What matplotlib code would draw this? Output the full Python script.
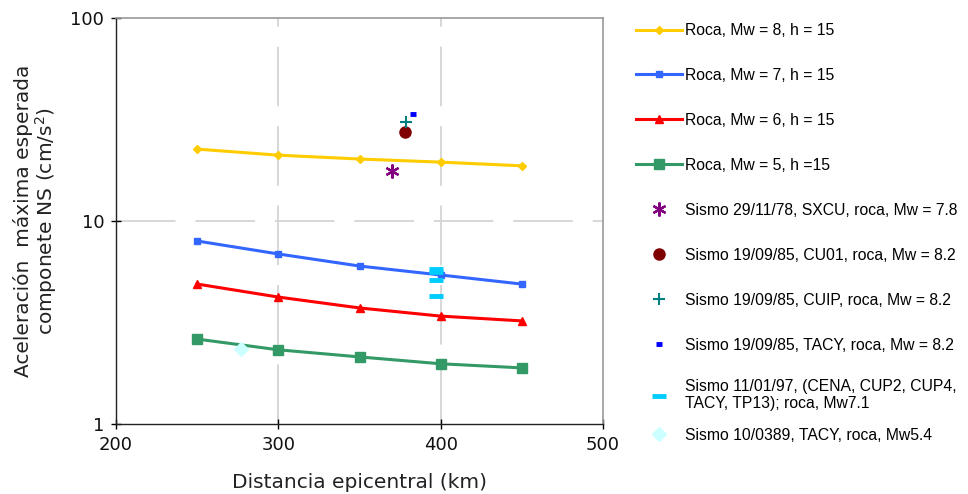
import matplotlib
matplotlib.use("Agg")
import matplotlib.pyplot as plt
from matplotlib.ticker import FixedLocator, FixedFormatter, NullLocator

# ---- data ----
distances = [250, 300, 350, 400, 450]
mw8 = [22.6, 21.1, 20.2, 19.5, 18.7]
mw7 = [7.97, 6.88, 6.0, 5.42, 4.89]
mw6 = [4.89, 4.22, 3.73, 3.40, 3.22]
mw5 = [2.62, 2.32, 2.14, 1.98, 1.89]

sxcu_x, sxcu_y = [370], [17.6]
cu01_x, cu01_y = [378], [27.4]
cuip_x, cuip_y = [378.5], [30.7]
tacy85_x, tacy85_y = [383], [33.7]
s97_x = [397, 397, 397, 397]
s97_y = [5.8, 5.6, 5.1, 4.25]
s89_x, s89_y = [277], [2.34]

labels_roca = ["Roca, Mw = 8, h = 15", "Roca, Mw = 7, h = 15",
               "Roca, Mw = 6, h = 15", "Roca, Mw = 5, h =15"]
labels_sismo = ["Sismo 29/11/78, SXCU, roca, Mw = 7.8",
                "Sismo 19/09/85, CU01, roca, Mw = 8.2",
                "Sismo 19/09/85, CUIP, roca, Mw = 8.2",
                "Sismo 19/09/85, TACY, roca, Mw = 8.2",
                "Sismo 11/01/97, (CENA, CUP2, CUP4,\nTACY, TP13); roca, Mw7.1",
                "Sismo 10/0389, TACY, roca, Mw5.4"]
xticks = [200, 300, 400, 500]
yticks = [1, 10, 100]
ytick_labels = ["1", "10", "100"]

fig = plt.figure(figsize=(9.68, 4.94), dpi=100)
ax = fig.add_axes([116/968, 70/494, 487/968, 406/494])

lw = 2.2
h = []
h += ax.plot(distances, mw8, color="#FFCC00", lw=lw, marker="D", ms=4.5, label=labels_roca[0])
h += ax.plot(distances, mw7, color="#3366FF", lw=lw, marker="s", ms=4.5, label=labels_roca[1])
h += ax.plot(distances, mw6, color="#FF0000", lw=lw, marker="^", ms=6, label=labels_roca[2])
h += ax.plot(distances, mw5, color="#339966", lw=lw, marker="s", ms=6.5, label=labels_roca[3])

h += ax.plot(sxcu_x, sxcu_y, ls="none", marker=(6, 2, 0), ms=10, mew=1.6, color="#800080", label=labels_sismo[0])
h += ax.plot(cu01_x, cu01_y, ls="none", marker="o", ms=8, color="#800000", label=labels_sismo[1])
h += ax.plot(cuip_x, cuip_y, ls="none", marker="+", ms=9, mew=1.5, color="#008080", label=labels_sismo[2])
h += ax.plot(tacy85_x, tacy85_y, ls="none", marker="_", ms=5, mew=3.5, color="#0000FF", label=labels_sismo[3])
h += ax.plot(s97_x, s97_y, ls="none", marker="_", ms=9.5, mew=3.5, color="#00CCFF", label=labels_sismo[4])
h += ax.plot(s89_x, s89_y, ls="none", marker="D", ms=7, color="#CCFFFF", label=labels_sismo[5])

ax.set_yscale("log")
ax.set_xlim(200, 500)
ax.set_ylim(1, 100)
ax.xaxis.set_major_locator(FixedLocator(xticks))
ax.yaxis.set_major_locator(FixedLocator(yticks))
ax.yaxis.set_major_formatter(FixedFormatter(ytick_labels))
ax.yaxis.set_minor_locator(NullLocator())

for lab in ax.get_xticklabels() + ax.get_yticklabels():
    lab.set_fontfamily("DejaVu Sans")
    lab.set_fontsize(13)
    lab.set_color("#111111")
ax.tick_params(direction="inout", length=7, width=1, pad=5)

# gridlines (dashed, light gray) at interior positions
for xv in xticks[1:-1]:
    ax.axvline(xv, color="#D4D4D4", lw=1.3, ls=(0, (33, 11)), zorder=0)
for yv in yticks[1:-1]:
    ax.axhline(yv, color="#D4D4D4", lw=1.3, ls=(0, (33, 11)), zorder=0)

for s in ["left", "bottom"]:
    ax.spines[s].set_color("#222222")
    ax.spines[s].set_linewidth(1)
for s in ["top", "right"]:
    ax.spines[s].set_color("#999999")
    ax.spines[s].set_linewidth(1.2)

ax.set_xlabel("Distancia epicentral (km)", fontfamily="DejaVu Sans", fontsize=14.5,
              labelpad=14, color="#222222")
ax.set_ylabel("Aceleración  máxima esperada\ncomponete NS (cm/s$^2$)", fontfamily="DejaVu Sans",
              fontsize=14.5, labelpad=8, linespacing=1.0, color="#222222")

prop = dict(family="Liberation Sans", size=11.3)
leg1 = fig.legend(handles=h[:8], loc="upper left", bbox_to_anchor=(636/968, 1 - 23/494),
                  frameon=False, prop=prop,
                  handlelength=2.9, handletextpad=0.25, labelspacing=1.91,
                  borderaxespad=0, borderpad=0)
leg2 = fig.legend(handles=h[8:], loc="upper left", bbox_to_anchor=(636/968, 1 - 379/494),
                  frameon=False, prop=prop,
                  handlelength=2.9, handletextpad=0.25, labelspacing=1.05,
                  borderaxespad=0, borderpad=0)

fig.savefig("out.png", dpi=100)
